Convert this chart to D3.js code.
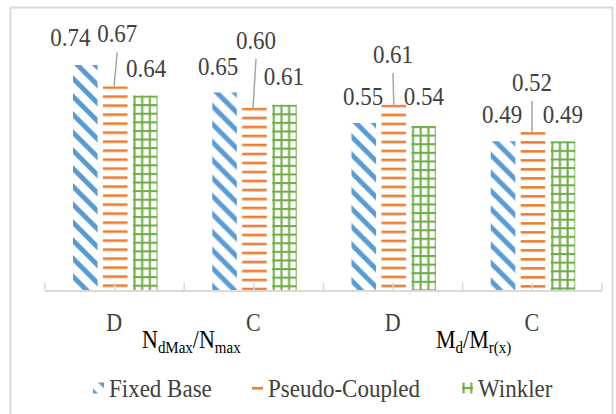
<!DOCTYPE html>
<html>
<head>
<meta charset="utf-8">
<script src="https://cdn.jsdelivr.net/npm/d3@7"></script>
<style>
  html, body { margin: 0; padding: 0; background: #ffffff; }
  svg { display: block; }
  svg text { font-family: "Liberation Serif", "DejaVu Serif", "Times New Roman", serif; }
</style>
</head>
<body>
<script>
// ---------- DATA ----------
const categories = ["D", "C", "D", "C"];
const seriesNames = ["Fixed Base", "Pseudo-Coupled", "Winkler"];
const fixedBase = [0.74, 0.65, 0.55, 0.49];
const pseudoCoupled = [0.67, 0.60, 0.61, 0.52];
const winkler = [0.64, 0.61, 0.54, 0.49];
// group titles: [text, isSubscript]
const groupTitleParts = [
  [["N", false], ["dMax", true], ["/N", false], ["max", true]],
  [["M", false], ["d", true], ["/M", false], ["r(x)", true]]
];

// ---------- LAYOUT / STYLE ----------
const W = 616, H = 414;
const colors = ["#5b9bd5", "#ed7d31", "#70ad47"];
const textColor = "#404040";
const stretch = 1.12;
// manual data label offsets (dx, dy of baseline relative to bar top-centre)
const labelOffsets = [
  [[-15, -19], [-6.5, -17.5], [-0.75, -18], [-1, -18]],
  [[2, -44], [1.5, -58.7], [-0.75, -41.6], [-1, -41]],
  [[1, -18.5], [-0.5, -19.6], [0.25, -21], [0, -18]]
];
const leaderSeries = 1;
const leaderBottomDx = [-1.25, -1.5, 0, -1];
const groupTitleX = [142, 436];
const legendSwatchX = [93, 252, 462];

const seriesValues = [fixedBase, pseudoCoupled, winkler];

const svg = d3.select("body").append("svg")
  .attr("width", W).attr("height", H);

svg.append("rect").attr("width", W).attr("height", H).attr("fill", "#fff");
// outer chart border
svg.append("rect")
  .attr("x", 10.5).attr("y", 7.5).attr("width", 602).attr("height", 430)
  .attr("fill", "none").attr("stroke", "#d9d9d9").attr("stroke-width", 2);

const x0 = d3.scaleBand().domain(d3.range(categories.length)).range([45, 602]);
const bw = x0.bandwidth();
const x1 = d3.scaleBand().domain(seriesNames)
  .range([bw * 0.201, bw * 0.808]).paddingInner(0.18);
const y = d3.scaleLinear().domain([0, 0.8]).range([290.7, 46.7]);

const defs = svg.append("defs");

function makePattern(id, si, tx, ty) {
  const p = defs.append("pattern").attr("id", id)
    .attr("patternUnits", "userSpaceOnUse");
  if (si === 0) {
    p.attr("width", 18).attr("height", 18)
      .attr("patternTransform", `translate(${tx},${ty})`);
    p.append("path").attr("d", "M0,0 L7,0 L18,11 L18,18 Z M0,11 L7,18 L0,18 Z")
      .attr("fill", colors[0]);
  } else if (si === 1) {
    p.attr("width", 30).attr("height", 9)
      .attr("patternTransform", `translate(${tx},${ty})`);
    p.append("rect").attr("x", 0).attr("y", 0).attr("width", 30).attr("height", 2.6)
      .attr("fill", colors[1]);
  } else {
    p.attr("width", 7.7).attr("height", 8.6)
      .attr("patternTransform", `translate(${tx},${ty})`);
    p.append("rect").attr("x", 0.5).attr("y", 0).attr("width", 2.1).attr("height", 8.6)
      .attr("fill", colors[2]);
    p.append("rect").attr("x", 0).attr("y", 0).attr("width", 7.7).attr("height", 2.1)
      .attr("fill", colors[2]);
  }
  return `url(#${id})`;
}

// ---------- BARS ----------
const bars = [];
seriesValues.forEach((vals, si) => {
  vals.forEach((v, ci) => {
    bars.push({ si, ci, v,
      x: x0(ci) + x1(seriesNames[si]),
      top: y(v) });
  });
});

svg.append("g").selectAll("rect").data(bars).join("rect")
  .attr("x", d => d.x)
  .attr("y", d => d.top)
  .attr("width", x1.bandwidth())
  .attr("height", d => y(0) - d.top)
  .attr("fill", d => makePattern(`p${d.si}_${d.ci}`, d.si,
      d.si === 0 ? d.x + 1 : d.x, d.top));

// ---------- AXIS ----------
const axis = svg.append("g");
axis.append("line")
  .attr("x1", x0.range()[0]).attr("x2", x0.range()[1])
  .attr("y1", y(0) + 0.3).attr("y2", y(0) + 0.3)
  .attr("stroke", "#d9d9d9").attr("stroke-width", 2);
const tickXs = d3.range(categories.length + 1).map(i => x0.range()[0] + i * bw)
  .concat(d3.range(categories.length).map(i => x0(i) + bw / 2));
axis.selectAll("line.tick").data(tickXs).join("line").attr("class", "tick")
  .attr("x1", d => d).attr("x2", d => d)
  .attr("y1", y(0)).attr("y2", y(0) - 8)
  .attr("stroke", "#d9d9d9").attr("stroke-width", 1.5);

function stretchedText(g, x, yy, txt, size, fill, anchor) {
  return g.append("text")
    .attr("transform", `translate(${x},${yy}) scale(1,${stretch})`)
    .attr("text-anchor", anchor || "middle")
    .attr("font-size", size)
    .attr("fill", fill).text(txt);
}

const catG = svg.append("g");
categories.forEach((c, i) => {
  stretchedText(catG, x0(i) + bw / 2 - 0.5, 331, c, 22, textColor);
});

// group titles
groupTitleParts.forEach((parts, gi) => {
  const t = svg.append("text")
    .attr("transform", `translate(${groupTitleX[gi]},347.5) scale(1,${stretch})`)
    .attr("fill", "#000");
  parts.forEach(([s, sub], k) => {
    t.append("tspan")
      .attr("font-size", sub ? 15 : 22)
      .attr("dy", k === 0 ? 0 : (sub ? 5 : -5))
      .text(s);
  });
});

// ---------- DATA LABELS ----------
const lblG = svg.append("g");
bars.forEach(d => {
  const cx = d.x + x1.bandwidth() / 2;
  const [dx, dy] = labelOffsets[d.si][d.ci];
  const lx = cx + dx, ly = d.top + dy;
  if (d.si === leaderSeries) {
    lblG.append("line")
      .attr("x1", lx).attr("y1", ly + 10)
      .attr("x2", cx + leaderBottomDx[d.ci]).attr("y2", d.top)
      .attr("stroke", "#a6a6a6").attr("stroke-width", 1.5);
  }
  stretchedText(lblG, lx, ly, d3.format(".2f")(d.v), 23, textColor);
});

// ---------- LEGEND ----------
const leg = svg.append("g");
seriesNames.forEach((name, si) => {
  const sx = legendSwatchX[si], sy = 382.5;
  let tx = sx, ty = sy;
  if (si === 0) { tx = sx + 3; ty = sy - 2; }
  if (si === 1) { ty = sy + 4.5; }
  if (si === 2) { tx = sx; ty = sy + 4.5; }
  leg.append("rect")
    .attr("x", sx).attr("y", sy).attr("width", 11).attr("height", 11)
    .attr("fill", makePattern(`leg${si}`, si, tx, ty));
  stretchedText(leg, sx + 16, 396.5, name, 23, textColor, "start");
});
</script>
</body>
</html>
